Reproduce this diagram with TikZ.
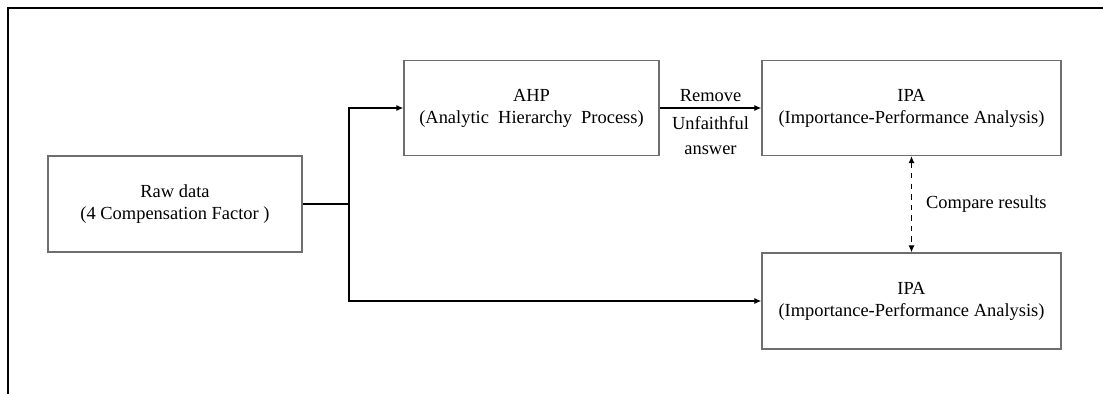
\documentclass[tikz,border=0pt]{standalone}
\usepackage{fontspec}
\setmainfont{Liberation Serif}
\usepackage{xcolor}
\usetikzlibrary{arrows.meta,positioning}
\definecolor{boxgray}{HTML}{6E6E6E}
\tikzset{
  stagebox/.style={draw=boxgray,line width=0.8pt,minimum width=#1,minimum height=1.9cm,
    align=center,font=\fontsize{10.5}{12.5}\selectfont,inner sep=0pt},
  flowarrow/.style={-{Latex[length=4pt,width=3.6pt]},black,line width=0.7pt},
  bothways/.style={{Latex[length=4pt,width=3.6pt]}-{Latex[length=4pt,width=3.6pt]},
    black,line width=0.7pt,dashed},
  flowline/.style={black,line width=0.7pt},
  tag/.style={font=\fontsize{10.5}{14.2}\selectfont,align=center}
}

\begin{document}
\begin{tikzpicture}[x=0.2cm,y=0.2cm]
  \useasboundingbox (0,0) rectangle (110.3,39.4);
  % outer frame, only top and left edges
  \draw[black,line width=0.7pt] (110.3,38.6) -- (0.8,38.6) -- (0.8,0);

  \node[stagebox=5.08cm,minimum height=1.92cm] (raw) at (17.5,19.0) {Raw data\\(4 Compensation Factor )};
  \node[stagebox=5.1cm] (ahp) at (53.15,28.6) {AHP\\(Analytic~ Hierarchy~ Process)};
  \node[stagebox=5.98cm] (ipa1) at (91.15,28.6) {IPA\\(Importance-Performance Analysis)};
  \node[stagebox=5.98cm,minimum height=1.92cm] (ipa2) at (91.15,9.3) {IPA\\(Importance-Performance Analysis)};

  \coordinate (split) at (34.9,19.0);
  \draw[flowline] (raw.east) -- (split);
  \draw[flowarrow] (split) |- (ahp.west);
  \draw[flowarrow] (split) |- (ipa2.west);

  \draw[flowarrow] (ahp.east) -- (ipa1.west)
    node[midway,above,tag,inner sep=3pt] {Remove}
    node[midway,below,tag,inner sep=4.5pt] {Unfaithful\\answer};
  \draw[bothways] (ipa1.south) -- (ipa2.north)
    node[midway,right,tag,inner sep=8pt] {Compare results};
\end{tikzpicture}
\end{document}
